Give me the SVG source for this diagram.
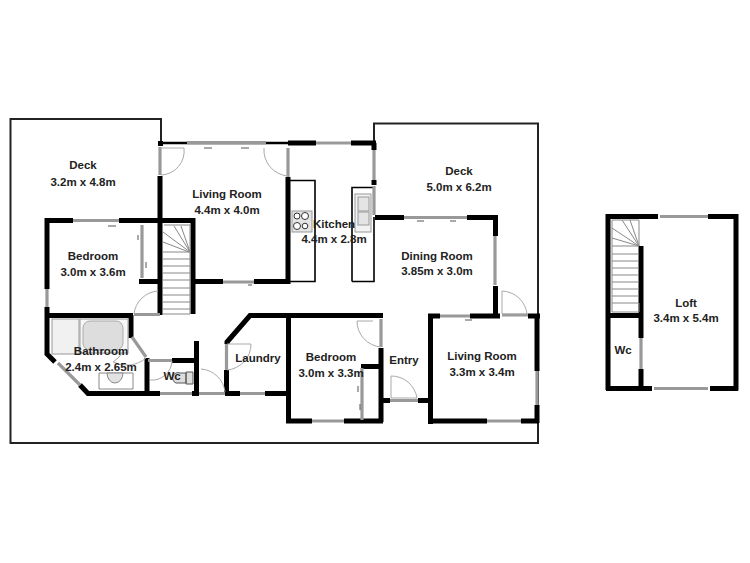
<svg xmlns="http://www.w3.org/2000/svg" width="750" height="563" viewBox="0 0 750 563">
<style>
.w{fill:none;stroke:#000;stroke-width:5;stroke-linecap:butt}
.n{fill:none;stroke:#000;stroke-width:1.6}
.d{fill:none;stroke:#222;stroke-width:2}
.t{fill:none;stroke:#000;stroke-width:2.500}
.g{fill:none;stroke:#999;stroke-width:3.200}
.a{fill:none;stroke:#aaa;stroke-width:1}
.s{fill:none;stroke:#888;stroke-width:1}
.m{fill:none;stroke:#555;stroke-width:1}
.f{fill:#e4e4e4;stroke:#999;stroke-width:1}
text{font-family:"Liberation Sans",Arial,sans-serif;font-size:11.500px;font-weight:700;fill:#222;text-anchor:middle}
</style>
<rect width="750" height="563" fill="#fff"/>
<g id="connectors">
<path class="d" d="M161 143V119H10.500V443H538V316M374 143V123.500H538V316"/>
<path class="t" d="M161 143H288"/>
<path class="n" d="M290 180.500H315V281.500H290M352 281.500V187.500H374M352 281.500H374V217"/>
<g id="walls">
<path class="w" d="M160 176V315M47 218V289M45 220.500H73M119 220.500H193M193 218V314M139 281.500H160M193 281.500H223M254 281.500H290M288 177V284"/>
<path class="w" d="M47 307V354L55 362M80 385L88 393.500H160M47 315.500H133M131 315V338M147 358V394M172 360.500H196M196.500 341V395M192 393.500H199M225 393.500H240M265 393.500H290M226.500 370V394M227 344V342L250 315.500H383M288.500 315V422M381 348V422M286 421H312M344 421H383M361 366.500H381M381 400.500H390M418 400.500H430M430.500 314V424M428 316H440M470 316H500M528 316H540M537 315V371M537 405V423M428 421H487M521 421H539"/>
<path class="w" d="M288 143H316M351 143H376M374 143V150M374 180V185M375 217.500H404M467 217.500H498M495.500 215V236M495.500 286V318"/>
<path class="w" d="M606 216.500H658M708 216.500H738.500M736 216V390.500M608 214V390M606 388.500H652M710 388.500H738M641 246V338M641 369V391M608 315.500H641"/>
<path fill="#000" d="M158 141h5v5h-5z"/>
</g>
<g id="openings">
<path class="g" d="M187 142.700H266M160 147V175M73 220.500H119M223 282H254M47 289V307M58 363L80 385M132 337L146 357M148 360.500H172M160 393.500H192M199 393.500H225M240 393.500H265M226.500 344V370M134 314.500H160M312 421H344M381 319V347M362 368V420M390 400.500H418M440 316H470M502 315H528M537 371V405M487 421H521"/>
<path class="g" d="M316 143H351M288 148V177M374 150V180M374 186V215M404 217.500H467M495 236V285M660 216.500H708M654 388.500H708M641 338V369M142 225V278"/>
<path class="m" d="M204 148H212M241 148H249M108 226H116M248 285H252M417 221H424M450 221H456M465 320H472M358 386V392M360 404V410M138 235V240M146 262V268"/>
</g>
<g id="door-swings">
<path class="a" d="M161 148H184A24 24 0 0 1 161 175M264 148A26 26 0 0 0 288 176M158 291A26 26 0 0 0 134 314M373 321H357A26 26 0 0 0 381 347M391 376V398H417A26 26 0 0 0 391 376M502 291V314H527A26 26 0 0 0 502 291M201 369A26 26 0 0 1 225 392M227 344H251A26 26 0 0 1 227 370M126 341A28 28 0 0 1 113 362A30 30 0 0 0 146 358M172 361A20 20 0 0 1 150 380"/>
</g>
<g id="stairs">
<path class="s" d="M164 225H190L190 252M163 232L190 252M163 242L189 252M174 226L190 252M181 226L190 252M163 252H190V314H163M163 259H190M163 266H190M163 273H190M163 280H190M163 288H190M163 295H190M163 302H190M163 309H190"/>
<path class="s" d="M612 220H639V246H612M612 228L639 246M612 238L639 246M622 220L639 246M630 220L639 246M612 254H639M612 261H639M612 268H639M612 275H639M612 282H639M612 289H639M612 296H639M612 303H639V312H612V220"/>
</g>
<g id="fixtures">
<rect class="f" x="292" y="211" width="20" height="21"/>
<circle cx="297" cy="216" r="3" fill="#fff" stroke="#333"/><circle cx="305" cy="216" r="3.500" fill="#fff" stroke="#333"/><circle cx="297" cy="226" r="3.500" fill="#fff" stroke="#333"/><circle cx="305" cy="226" r="2.800" fill="#fff" stroke="#333"/>
<rect class="f" x="355" y="194" width="16" height="38" style="fill:#f2f2f2"/><rect class="f" x="358" y="197" width="11" height="14"/><rect class="f" x="358" y="212" width="11" height="13"/>
<rect class="f" x="52" y="319" width="27" height="35" style="fill:#f1f1f1"/>
<rect class="f" x="80" y="319" width="48" height="34" style="fill:#f7f7f7"/><rect x="83" y="321" width="40" height="29" rx="7" fill="#ddd" stroke="#aaa"/>
<path class="s" d="M133 389V373H99V389H133"/><path d="M107 373H123A8 10 0 0 1 107 373Z" fill="#e2e2e2" stroke="#888"/>
<path fill="#ddd" stroke="#555" d="M186 372H193V384H186ZM186 373H180A5 5 0 0 0 176 383H186Z"/>
</g>
</g>
<g id="deck-left"><text x="83" y="169">Deck</text><text x="83" y="186">3.2m x 4.8m</text></g>
<g id="deck-right"><text x="459" y="175">Deck</text><text x="459" y="191">5.0m x 6.2m</text></g>
<g id="living-room-1"><text x="227" y="198">Living Room</text><text x="227" y="214">4.4m x 4.0m</text></g>
<g id="bedroom-1"><text x="93" y="260">Bedroom</text><text x="93" y="276">3.0m x 3.6m</text></g>
<g id="kitchen"><text x="334" y="228">Kitchen</text><text x="334" y="243">4.4m x 2.8m</text></g>
<g id="dining-room"><text x="437" y="260">Dining Room</text><text x="437" y="275">3.85m x 3.0m</text></g>
<g id="bathroom"><text x="101" y="355">Bathroom</text><text x="101" y="371">2.4m x 2.65m</text></g>
<g id="wc-1"><text x="172" y="380">Wc</text></g>
<g id="laundry"><text x="258" y="362">Laundry</text></g>
<g id="bedroom-2"><text x="331" y="361">Bedroom</text><text x="331" y="377">3.0m x 3.3m</text></g>
<g id="entry"><text x="404" y="364">Entry</text></g>
<g id="living-room-2"><text x="482" y="360">Living Room</text><text x="482" y="376">3.3m x 3.4m</text></g>
<g id="loft"><text x="686" y="307">Loft</text><text x="686" y="322">3.4m x 5.4m</text></g>
<g id="wc-2"><text x="623" y="354">Wc</text></g>
</svg>
